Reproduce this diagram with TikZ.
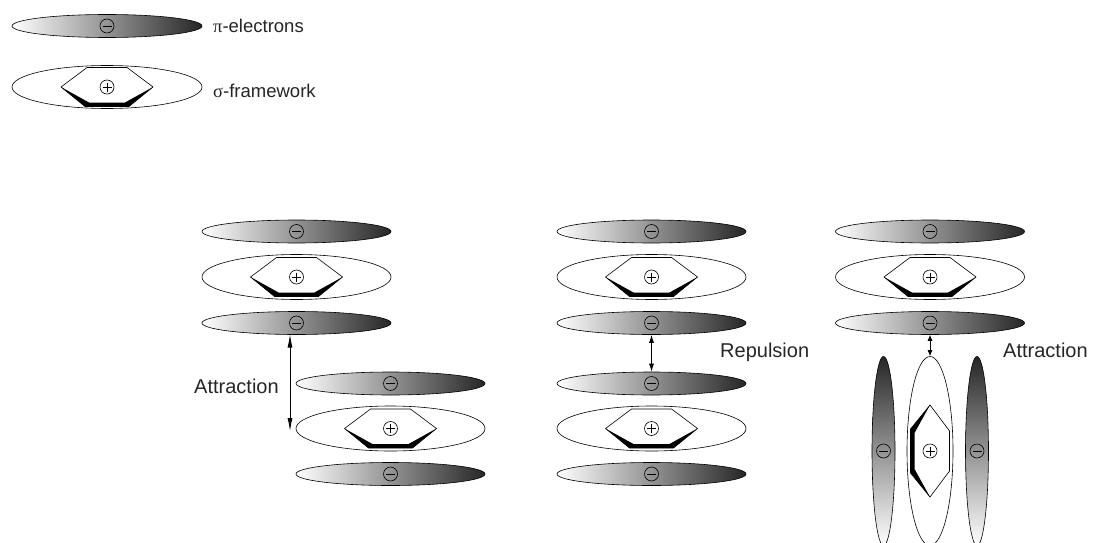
\documentclass[tikz,border=0pt]{standalone}
\usepackage{fontspec}
\setmainfont{Liberation Sans}
\newfontfamily\grk{Liberation Serif}
\usetikzlibrary{shapes.geometric,arrows.meta}

% benzene ring in perspective, thick front edges, centred on the origin
\newcommand{\benzring}{%
  \fill[black] (-46,0) -- (-22,19.5) -- (22,19.5) -- (46,0) -- (18,15.5) -- (-18,15.5) -- cycle;
  \draw[line width=0.6pt, line join=miter]
    (-46,0) -- (-20,-19.5) -- (20,-19.5) -- (46,0) -- (22,19.5) -- (-22,19.5) -- cycle;
}

\tikzset{
  outline/.style={draw=black, line width=0.6pt},
  pielec/.style={outline, ellipse, inner sep=0pt, minimum width=189pt, minimum height=23pt,
                 left color=white, right color=black!85},
  pielecv/.style={outline, ellipse, inner sep=0pt, minimum width=23pt, minimum height=189pt,
                  top color=black!85, bottom color=white},
  sigmafw/.style={outline, ellipse, inner sep=0pt, minimum width=189pt, minimum height=45pt, fill=white},
  sigmafwv/.style={outline, ellipse, inner sep=0pt, minimum width=46pt, minimum height=189pt, fill=white},
  lbl/.style={font=\fontsize{20}{24}\selectfont, text=black!85, inner sep=0pt, anchor=base west},
  legendlbl/.style={font=\fontsize{18.5}{22}\selectfont, text=black!85, inner sep=0pt, anchor=base west},
  force/.style={line width=0.8pt, {Latex[length=#1,width=5pt]}-{Latex[length=#1,width=5pt]}},
  % negative charge of the pi cloud
  negcharge/.pic={
    \draw[line width=0.6pt] (0,0) circle[radius=7pt];
    \draw[line width=0.6pt] (-4.5,0) -- (4.5,0);
  },
  % positive charge of the sigma framework
  poscharge/.pic={
    \draw[line width=0.6pt] (0,0) circle[radius=7pt];
    \draw[line width=0.6pt] (-4.5,0) -- (4.5,0) (0,-4.5) -- (0,4.5);
  },
  ring/.pic={\benzring}
}

\begin{document}
\begin{tikzpicture}[x=1pt, y=-1pt]
\useasboundingbox (0,0) rectangle (1097,543);
\fill[white] (0,0) rectangle (1097,543);
\clip (0,0) rectangle (1097,543);

% ---- legend ----
\node[pielec, minimum width=190pt] (lp) at (107,26) {};
\pic at (lp) {negcharge};
\node[legendlbl] (lpt) at (213,32.5) {{\grk π}-electrons};

\node[sigmafw, minimum width=190pt, minimum height=43pt] (ls) at (107,87) {};
\pic at (ls) {ring};
\pic at (ls) {poscharge};
\node[legendlbl] (lst) at (213,97.5) {{\grk σ}-framework};

% ---- offset stack ----
\node[pielec]  (a1) at (296.5,231.5) {};
\node[sigmafw] (a2) at (296.5,277) {};
\node[pielec]  (a3) at (296.5,323) {};
\node[pielec]  (b1) at (390.5,383.5) {};
\node[sigmafw] (b2) at (390.5,428.5) {};
\node[pielec]  (b3) at (390.5,474) {};
\foreach \n in {a1,a3,b1,b3} \pic at (\n) {negcharge};
\foreach \n in {a2,b2} {\pic at (\n) {ring}; \pic at (\n) {poscharge};}
\coordinate (aa) at (290,334.5);
\coordinate (ab) at (290,431);
\draw[force=13pt] (aa) -- (ab);
\node[lbl] (att1) at (194,393) {Attraction};

% ---- face-to-face stack ----
\node[pielec]  (c1) at (651.5,231.5) {};
\node[sigmafw] (c2) at (651.5,277) {};
\node[pielec]  (c3) at (651.5,323) {};
\node[pielec]  (d1) at (651.5,383.5) {};
\node[sigmafw] (d2) at (651.5,428.5) {};
\node[pielec]  (d3) at (651.5,474) {};
\foreach \n in {c1,c3,d1,d3} \pic at (\n) {negcharge};
\foreach \n in {c2,d2} {\pic at (\n) {ring}; \pic at (\n) {poscharge};}
\draw[force=8pt] (c3.south) -- (d1.north);
\node[lbl] (rep) at (720,357.5) {Repulsion};

% ---- T-shaped arrangement ----
\node[pielec]  (e1) at (930,231.5) {};
\node[sigmafw] (e2) at (930,277) {};
\node[pielec]  (e3) at (930,323) {};
\foreach \n in {e1,e3} \pic at (\n) {negcharge};
\pic at (e2) {ring}; \pic at (e2) {poscharge};

\node[pielecv]  (fl) at (883.5,451) {};
\node[sigmafwv] (fs) at (930,451) {};
\node[pielecv]  (fr) at (977,451) {};
\pic at (fl) {negcharge};
\pic at (fr) {negcharge};
\begin{scope}[shift={(930,451)}, rotate=-90]
  \benzring
\end{scope}
\pic at (fs) {poscharge};
\draw[force=6pt] (e3.south) -- (fs.north);
\node[lbl] (att2) at (1003,357) {Attraction};
\end{tikzpicture}
\end{document}
